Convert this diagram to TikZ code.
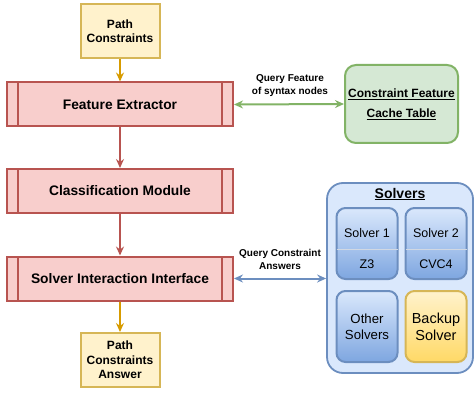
\documentclass[tikz,border=0pt]{standalone}
\usepackage{fontspec}
\setmainfont{Liberation Sans}
\usetikzlibrary{arrows.meta,positioning}

\definecolor{yfill}{HTML}{FFF2CC}
\definecolor{ydraw}{HTML}{D6B656}
\definecolor{yarrow}{HTML}{D79B00}
\definecolor{rfill}{HTML}{F8CECC}
\definecolor{rdraw}{HTML}{B85450}
\definecolor{gfill}{HTML}{D5E8D4}
\definecolor{gdraw}{HTML}{82B366}
\definecolor{bfill}{HTML}{DAE8FC}
\definecolor{bdraw}{HTML}{6C8EBF}
\definecolor{bdark}{HTML}{7EA6E0}
\definecolor{ydark}{HTML}{FFD966}
\definecolor{divline}{HTML}{D2D8E2}

\tikzset{
  tip/.style={-{Stealth[length=9pt,width=8pt,inset=3pt]}},
  biarrow/.style={{Stealth[length=9pt,width=8pt,inset=3pt]}-{Stealth[length=9pt,width=8pt,inset=3pt]}},
  termbox/.style={draw=ydraw, fill=yfill, line width=2pt, minimum width=79pt,
    minimum height=54pt, inner sep=0pt, align=center,
    font=\fontsize{12}{14.5}\selectfont\bfseries},
  procbox/.style={draw=rdraw, fill=rfill, line width=2pt, minimum width=226pt,
    minimum height=44pt, inner sep=0pt,
    font=\fontsize{13.8}{16}\selectfont\bfseries,
    path picture={\draw[rdraw,line width=2pt]
      ([xshift=11pt]path picture bounding box.north west) --
      ([xshift=11pt]path picture bounding box.south west)
      ([xshift=-11pt]path picture bounding box.north east) --
      ([xshift=-11pt]path picture bounding box.south east);}},
  linklabel/.style={font=\fontsize{10}{13}\selectfont\bfseries, align=center, inner sep=0pt},
  solvertext/.style={font=\fontsize{12.5}{15}\selectfont, inner sep=0pt, align=center},
  solverbox/.style={draw=bdraw, line width=2pt, rounded corners=9pt,
    top color=bfill, bottom color=bdark, minimum width=61pt, minimum height=71pt,
    inner sep=0pt, solvertext},
}

\begin{document}
\begin{tikzpicture}[x=1pt,y=-1pt]
  \useasboundingbox (0,0) rectangle (474,393);

  % main pipeline
  \node[termbox] (pc) at (120,31) {Path\\Constraints};
  \node[procbox] (fe) at (120,104.5) {Feature Extractor};
  \node[procbox] (cm) at (120,191) {Classification Module};
  \node[procbox] (sii) at (120,278.5) {Solver Interaction Interface};
  \node[termbox] (pca) at (120,360) {Path\\Constraints\\Answer};

  \draw[tip, yarrow, line width=2pt] (pc) -- (fe);
  \draw[tip, rdraw, line width=2pt] (fe) -- (cm);
  \draw[tip, rdraw, line width=2pt] (cm) -- (sii);
  \draw[tip, yarrow, line width=2pt] (sii) -- (pca);

  % feature cache
  \node[draw=gdraw, fill=gfill, line width=2pt, rounded corners=11pt,
    minimum width=113pt, minimum height=78pt, inner sep=0pt, align=center,
    font=\fontsize{12}{20}\selectfont\bfseries] (cache) at (401.5,104)
    {\underline{Constraint Feature}\\\underline{Cache Table}};
  \draw[biarrow, gdraw, line width=2pt] (fe.east) -- (cache.west);
  \node[linklabel] (ql) at (290,86) {Query Feature\\of syntax nodes};

  % solver pool
  \node[draw=bdraw, fill=bfill, line width=1.8pt, rounded corners=16pt,
    minimum width=146pt, minimum height=190pt] (pool) at (400,278) {};
  \node[font=\fontsize{14}{16}\selectfont\bfseries, inner sep=0pt] (pooltitle)
    at (400,194) {\underline{Solvers}};

  \node[solverbox] (s1) at (367,243.5) {};
  \draw[divline, line width=1pt] ([xshift=1pt]s1.west |- 0,249) coordinate (d1a)
    -- ([xshift=-1pt]s1.east |- 0,249) coordinate (d1b);
  \node[solvertext] (s1a) at (367,233) {Solver 1};
  \node[solvertext] (s1b) at (367,264) {Z3};

  \node[solverbox] (s2) at (436,243.5) {};
  \draw[divline, line width=1pt] ([xshift=1pt]s2.west |- 0,249) coordinate (d2a)
    -- ([xshift=-1pt]s2.east |- 0,249) coordinate (d2b);
  \node[solvertext] (s2a) at (436,233) {Solver 2};
  \node[solvertext] (s2b) at (436,264) {CVC4};

  \node[solverbox, font=\fontsize{13.2}{16}\selectfont] (other) at (367,326.5) {Other\\Solvers};
  \node[solverbox, draw=ydraw, top color=yfill, bottom color=ydark,
    font=\fontsize{14.5}{17}\selectfont] (backup) at (436,326.5) {Backup\\Solver};

  \draw[biarrow, bdraw, line width=2pt] (sii.east) -- (pool.west |- sii.east);
  \node[linklabel] (qa) at (280,259.5) {Query Constraint\\Answers};
\end{tikzpicture}
\end{document}
